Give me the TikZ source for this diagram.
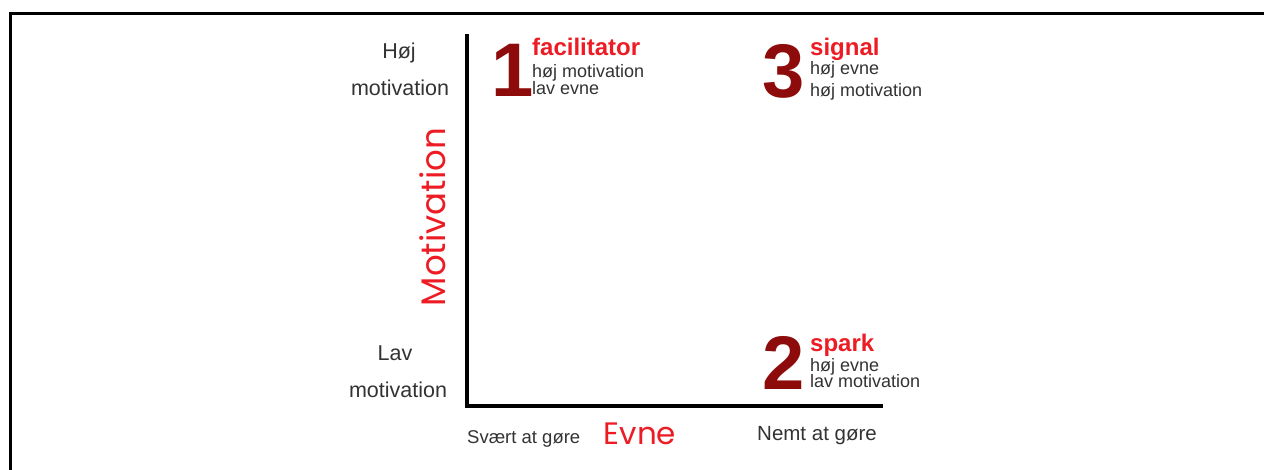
\documentclass[tikz,border=0pt]{standalone}
\usepackage{fontspec}
\setmainfont{Liberation Sans}
\newfontfamily\comic{Poppins}
\definecolor{txtgray}{HTML}{333333}
\definecolor{lblred}{HTML}{ED1C24}
\definecolor{numred}{HTML}{8E0B0B}
\begin{document}
\begin{tikzpicture}[x=1pt,y=-1pt,
  axlbl/.style={inner sep=0pt,text=txtgray,font=\fontsize{21.5}{21.5}\selectfont},
  ttl/.style={inner sep=0pt,text=lblred,font=\fontsize{24}{24}\selectfont\bfseries,anchor=base west},
  sub/.style={inner sep=0pt,text=txtgray,font=\fontsize{18}{18}\selectfont,anchor=base west},
  num/.style={inner sep=0pt,text=numred,font=\fontsize{76}{76}\selectfont\bfseries,anchor=base west},
  axname/.style={inner sep=0pt,text=lblred,font=\comic\fontsize{31}{31}\selectfont},
  frame/.style={line width=3pt,black},
  axis/.style={line width=4pt,black,line cap=rect}]
\useasboundingbox (0,0) rectangle (1264,470);
\fill[white] (0,0) rectangle (1264,470);
% frame
\coordinate (fbl) at (10,470);
\coordinate (ftl) at (10,14);
\coordinate (ftr) at (1264,14);
\draw[frame] (fbl) -- (ftl) -- (ftr);
% axes
\coordinate (ytop) at (467,36);
\coordinate (orig) at (467,406);
\coordinate (xend) at (881,406);
\draw[axis] (ytop) -- (orig) -- (xend);
% axis labels
\node[axlbl,anchor=base] (hoj) at (399,59) {Høj};
\node[axlbl,anchor=base] (hojm) at (400,96) {motivation};
\node[axlbl,anchor=base] (lav) at (395,360) {Lav};
\node[axlbl,anchor=base] (lavm) at (398,397) {motivation};
\node[axlbl,anchor=base west,font=\fontsize{18.5}{18.5}\selectfont] (svaert) at (467,443) {Svært at gøre};
\node[axlbl,anchor=base west,font=\fontsize{20.5}{20.5}\selectfont] (nemt) at (757,440) {Nemt at gøre};
\node[axname,anchor=base] (evne) at (640,444) {Evne};
\node[axname,rotate=90,font=\comic\fontsize{34}{34}\selectfont] (motiv) at (433,217) {Motivation};
% quadrant 1
\node[num] (n1) at (491,97) {1};
\node[ttl] (fac) at (532,56) {facilitator};
\node[sub] (fac1) at (532,78) {høj motivation};
\node[sub] (fac2) at (532,95) {lav evne};
% quadrant 3
\node[num] (n3) at (762,98) {3};
\node[ttl] (sig) at (810,56) {signal};
\node[sub] (sig1) at (810,75) {høj evne};
\node[sub] (sig2) at (810,97) {høj motivation};
% quadrant 2
\node[num] (n2) at (762,389) {2};
\node[ttl] (spk) at (810,352) {spark};
\node[sub] (spk1) at (810,371) {høj evne};
\node[sub] (spk2) at (810,388) {lav motivation};
\end{tikzpicture}
\end{document}
